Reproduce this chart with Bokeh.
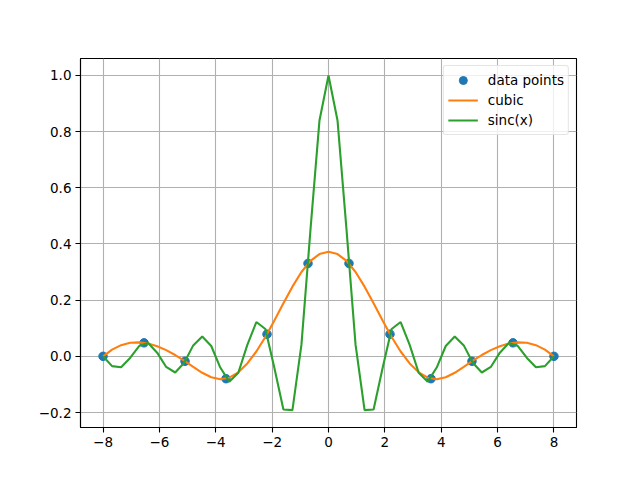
from bokeh.plotting import figure
from bokeh.models import FixedTicker, CustomJSTickFormatter, Range1d, Legend, LegendItem
from bokeh.embed import file_html
from bokeh.resources import INLINE

# data points (x = 12 samples over [-8, 8], y = sinc)
x_pts = [-8.0, -6.54545, -5.09091, -3.63636, -2.18182, -0.72727,
         0.72727, 2.18182, 3.63636, 5.09091, 6.54545, 8.0]
y_pts = [0.0, 0.0481, -0.0176, -0.0796, 0.0789, 0.3308,
         0.3308, 0.0789, -0.0796, -0.0176, 0.0481, 0.0]

# fine grid (51 samples over [-8, 8])
x_fine = [-8.0, -7.68, -7.36, -7.04, -6.72, -6.40, -6.08, -5.76, -5.44, -5.12,
          -4.80, -4.48, -4.16, -3.84, -3.52, -3.20, -2.88, -2.56, -2.24, -1.92,
          -1.60, -1.28, -0.96, -0.64, -0.32, 0.0, 0.32, 0.64, 0.96, 1.28,
          1.60, 1.92, 2.24, 2.56, 2.88, 3.20, 3.52, 3.84, 4.16, 4.48,
          4.80, 5.12, 5.44, 5.76, 6.08, 6.40, 6.72, 7.04, 7.36, 7.68, 8.0]

y_cubic = [0.0, 0.0240, 0.0398, 0.0481, 0.0497, 0.0455, 0.0360, 0.0222, 0.0047, -0.0156,
           -0.0377, -0.0585, -0.0743, -0.0813, -0.0760, -0.0569, -0.0252, 0.0172, 0.0687, 0.1273,
           0.1888, 0.2482, 0.3004, 0.3402, 0.3642, 0.3723, 0.3642, 0.3402, 0.3004, 0.2482,
           0.1888, 0.1273, 0.0687, 0.0172, -0.0252, -0.0569, -0.0760, -0.0813, -0.0743, -0.0585,
           -0.0377, -0.0156, 0.0047, 0.0222, 0.0360, 0.0455, 0.0497, 0.0481, 0.0398, 0.0240, 0.0]

y_sinc = [0.0, -0.0350, -0.0391, -0.0057, 0.0365, 0.0473, 0.0130, -0.0378, -0.0575, -0.0229,
          0.0390, 0.0709, 0.0369, -0.0399, -0.0902, -0.0585, 0.0407, 0.1221, 0.0973, -0.0412,
          -0.1892, -0.1916, 0.0416, 0.4500, 0.8399, 1.0, 0.8399, 0.4500, 0.0416, -0.1916,
          -0.1892, -0.0412, 0.0973, 0.1221, 0.0407, -0.0585, -0.0902, -0.0399, 0.0369, 0.0709,
          0.0390, -0.0229, -0.0575, -0.0378, 0.0130, 0.0473, 0.0365, -0.0057, -0.0391, -0.0350, 0.0]

x_ticks = [-8, -6, -4, -2, 0, 2, 4, 6, 8]
y_ticks = [-0.2, 0.0, 0.2, 0.4, 0.6, 0.8, 1.0]
labels = ["data points", "cubic", "sinc(x)"]

FONT = "DejaVu Sans"
FS = "13.5px"

p = figure(width=632, height=472, output_backend="svg", toolbar_location=None,
           x_range=Range1d(-8.8, 8.8), y_range=Range1d(-0.2534, 1.0605),
           min_border_left=80, min_border_top=58, min_border_right=56, min_border_bottom=45)
p.frame_width = 496
p.frame_height = 369

p.background_fill_color = "white"
p.border_fill_color = "white"
p.outline_line_color = "black"
p.outline_line_width = 1.1

for ax in (p.xaxis[0], p.yaxis[0]):
    ax.axis_line_color = "black"
    ax.axis_line_width = 1.1
    ax.major_tick_line_color = "black"
    ax.major_tick_line_width = 1.1
    ax.major_tick_in = 0
    ax.major_tick_out = 5
    ax.minor_tick_line_color = None
    ax.major_label_text_font = FONT
    ax.major_label_text_font_size = FS
    ax.major_label_text_color = "black"
    ax.major_label_standoff = 4

p.xaxis[0].ticker = FixedTicker(ticks=x_ticks)
p.yaxis[0].ticker = FixedTicker(ticks=y_ticks)
p.xaxis[0].formatter = CustomJSTickFormatter(code="return tick.toFixed(0).replace('-', '\\u2212');")
p.yaxis[0].formatter = CustomJSTickFormatter(code="return tick.toFixed(1).replace('-', '\\u2212');")

p.xgrid.grid_line_color = "#b0b0b0"
p.ygrid.grid_line_color = "#b0b0b0"
p.xgrid.grid_line_width = 1.1
p.ygrid.grid_line_width = 1.1

r_pts = p.scatter(x_pts, y_pts, size=8.5, marker="circle", fill_color="#1f77b4", line_color="#1f77b4")
r_cub = p.line(x_fine, y_cubic, line_color="#ff7f0e", line_width=2.1)
r_sinc = p.line(x_fine, y_sinc, line_color="#2ca02c", line_width=2.1)

legend = Legend(items=[LegendItem(label=labels[0], renderers=[r_pts]),
                       LegendItem(label=labels[1], renderers=[r_cub]),
                       LegendItem(label=labels[2], renderers=[r_sinc])],
                location="top_right")
legend.margin = 7
legend.padding = 4
legend.spacing = 0
legend.glyph_width = 30
legend.glyph_height = 20
legend.label_height = 20
legend.label_standoff = 10
legend.label_text_font = FONT
legend.label_text_font_size = FS
legend.label_text_color = "black"
legend.border_line_color = "#cccccc"
legend.border_line_width = 1
legend.background_fill_color = "white"
legend.background_fill_alpha = 0.8
legend.border_radius = 3
p.add_layout(legend)

open("out.html", "w").write(file_html(p, INLINE))
